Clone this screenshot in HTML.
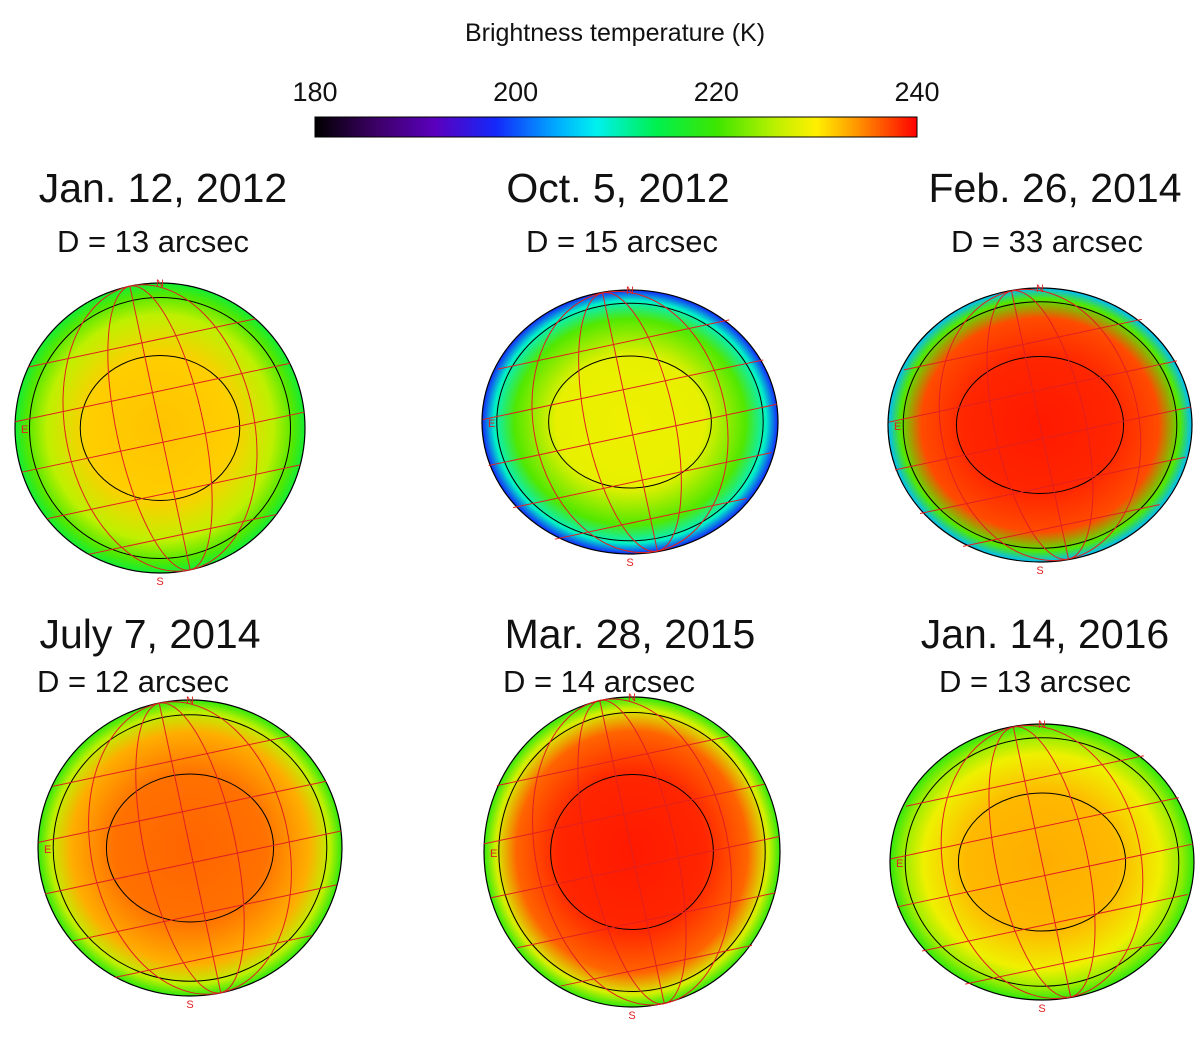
<!DOCTYPE html>
<html><head><meta charset="utf-8">
<style>
html,body{margin:0;padding:0;background:#fff;}
svg{display:block;font-family:"Liberation Sans",sans-serif;}
</style></head>
<body>
<svg id="chart" width="1200" height="1046" viewBox="0 0 1200 1046" xmlns="http://www.w3.org/2000/svg">
<defs id="defs"></defs>
<text x="615" y="41" font-size="25" text-anchor="middle" fill="#111">Brightness temperature (K)</text>
<g id="cbar"></g>
<g id="panels"></g>
</svg>
<script>
const cbTicks = [180, 200, 220, 240];
const panelTitles = ["Jan. 12, 2012","Oct. 5, 2012","Feb. 26, 2014","July 7, 2014","Mar. 28, 2015","Jan. 14, 2016"];
const panelDiam = ["D = 13 arcsec","D = 15 arcsec","D = 33 arcsec","D = 12 arcsec","D = 14 arcsec","D = 13 arcsec"];
const centerTemp = [232, 229, 239, 236, 239, 233];
const midTemp = [226, 221, 237, 233, 236, 229];
const limbTemp = [216, 198, 205, 219, 219, 219];

const NS='http://www.w3.org/2000/svg';
const svg=document.getElementById('chart'), defs=document.getElementById('defs');
const stops=[[180,[0,0,0]],[186,[60,0,100]],[192,[90,0,190]],[198,[20,40,250]],[204,[0,170,255]],[208,[0,240,240]],[214,[0,240,80]],[220,[60,230,0]],[226,[190,240,0]],[230,[255,240,0]],[234,[255,150,0]],[240,[255,0,0]]];
function cmap(t){
  if(t<=stops[0][0])return 'rgb(0,0,0)';
  for(let i=1;i<stops.length;i++){ if(t<=stops[i][0]){const a=stops[i-1],b=stops[i],f=(t-a[0])/(b[0]-a[0]);
    return 'rgb('+a[1].map((v,k)=>Math.round(v+(b[1][k]-v)*f)).join(',')+')';}}
  return 'rgb(255,0,0)';
}
function el(tag,attrs,parent){const e=document.createElementNS(NS,tag);for(const k in attrs)e.setAttribute(k,attrs[k]);(parent||svg).appendChild(e);return e;}
const cbX0=315,cbX1=917,cbY=117,cbH=20;
const xc=t=>cbX0+(t-cbTicks[0])/(cbTicks[cbTicks.length-1]-cbTicks[0])*(cbX1-cbX0);
const lg=el('linearGradient',{id:'cbg',x1:'0',x2:'1',y1:'0',y2:'0'},defs);
for(let t=180;t<=240;t+=2){el('stop',{offset:((t-180)/60).toFixed(3),'stop-color':cmap(t)},lg);}
const cb=document.getElementById('cbar');
const bar=el('rect',{x:cbX0,y:cbY,width:cbX1-cbX0,height:cbH,fill:'url(#cbg)',stroke:'#000','stroke-width':1},cb);


cbTicks.forEach(t=>{const tx=el('text',{x:xc(t),y:101,'font-size':27,'text-anchor':'middle',fill:'#111'},cb);tx.textContent=t;

});
const layout=[{tx:163,ty:202,dx:153,dy:252,cx:160,cy:428,rx:145,ry:145},
{tx:618,ty:202,dx:622,dy:252,cx:630,cy:422,rx:148,ry:132},
{tx:1055,ty:202,dx:1047,dy:252,cx:1040,cy:425,rx:152,ry:137},
{tx:150,ty:648,dx:133,dy:692,cx:190,cy:848,rx:152,ry:148},
{tx:630,ty:648,dx:599,dy:692,cx:632,cy:852,rx:148,ry:155},
{tx:1045,ty:648,dx:1035,dy:692,cx:1042,cy:862,rx:152,ry:138}];
const pg=document.getElementById('panels');
panelTitles.forEach((title,i)=>{
  const L=layout[i];
  const g=el('g',{},pg);
  
  
  const t=el('text',{x:L.tx,y:L.ty,'font-size':41,'text-anchor':'middle',fill:'#111'},g);t.textContent=title;
  
  
  const d=el('text',{x:L.dx,y:L.dy,'font-size':31,'text-anchor':'middle',fill:'#111'},g);d.textContent=panelDiam[i];
  
  
  const rg=el('radialGradient',{id:'rg'+i,cx:'0.5',cy:'0.5',r:'0.5'},defs);
  el('stop',{offset:'0','stop-color':cmap(centerTemp[i])},rg);
  el('stop',{offset:'0.5','stop-color':cmap(centerTemp[i]-0.5)},rg);
  el('stop',{offset:'0.78','stop-color':cmap(midTemp[i])},rg);
  el('stop',{offset:'0.92','stop-color':cmap((midTemp[i]+limbTemp[i])/2)},rg);
  el('stop',{offset:'1','stop-color':cmap(limbTemp[i])},rg);
  const disk=el('ellipse',{cx:L.cx,cy:L.cy,rx:L.rx,ry:L.ry,fill:'url(#rg'+i+')'},g);
  
  
  el('ellipse',{cx:L.cx,cy:L.cy,rx:L.rx,ry:L.ry,fill:'none',stroke:'#000','stroke-width':1.2},g);
  el('ellipse',{cx:L.cx,cy:L.cy,rx:L.rx*0.9,ry:L.ry*0.9,fill:'none',stroke:'#000','stroke-width':1},g);
  el('ellipse',{cx:L.cx,cy:L.cy,rx:L.rx*0.55,ry:L.ry*0.5,fill:'none',stroke:'#000','stroke-width':1},g);
  const gr=el('g',{stroke:'#e02020','stroke-width':1,fill:'none',transform:'rotate(-12 '+L.cx+' '+L.cy+')'},g);
  [0.3,0.65].forEach(f=>el('ellipse',{cx:L.cx,cy:L.cy,rx:L.rx*f,ry:L.ry,},gr));
  [-0.6,-0.25,0.1,0.45,0.75].forEach(f=>{const y=L.cy+f*L.ry;const w=L.rx*Math.sqrt(Math.max(0,1-f*f));el('line',{x1:L.cx-w,y1:y,x2:L.cx+w,y2:y},gr);});
  el('line',{x1:L.cx,y1:L.cy-L.ry,x2:L.cx,y2:L.cy+L.ry},gr);
  const n=el('text',{x:L.cx,y:L.cy-L.ry+4,'font-size':11,'text-anchor':'middle',fill:'#e02020'},g);n.textContent='N';
  
  
  const s=el('text',{x:L.cx,y:L.cy+L.ry+12,'font-size':11,'text-anchor':'middle',fill:'#e02020'},g);s.textContent='S';
  
  
  const e=el('text',{x:L.cx-L.rx+6,y:L.cy+5,'font-size':11,fill:'#e02020'},g);e.textContent='E';
  
  
});
</script>
</body></html>
